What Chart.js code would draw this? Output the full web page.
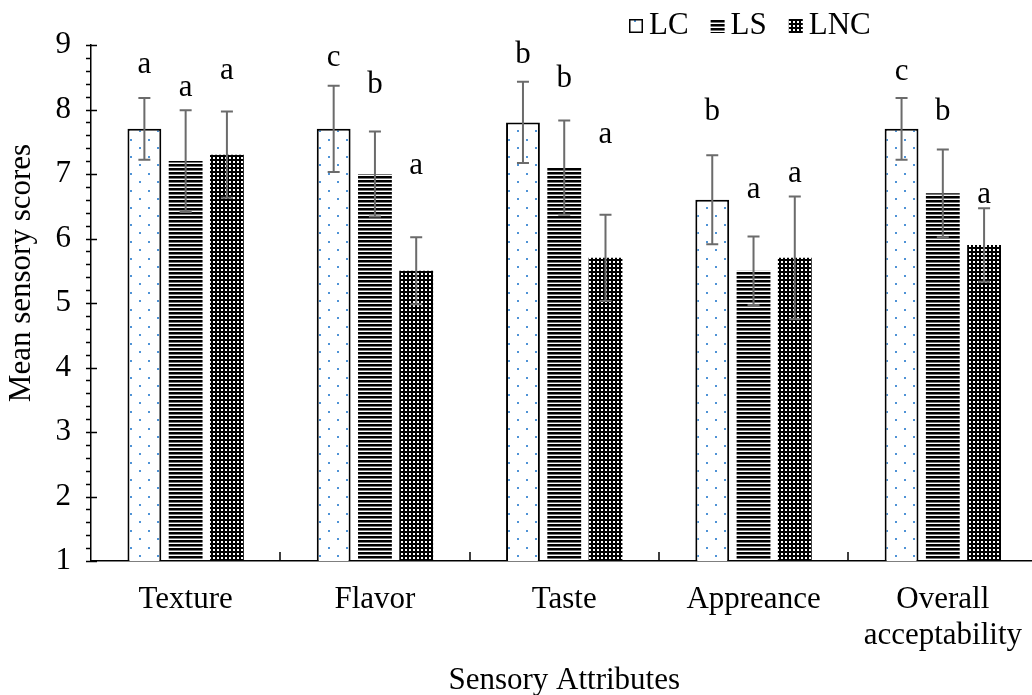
<!DOCTYPE html>
<html>
<head>
<meta charset="utf-8">
<title>Mean sensory scores</title>
<script src="https://cdn.jsdelivr.net/npm/chart.js@4.4.1/dist/chart.umd.min.js"></script>
<style>
  html, body { margin: 0; padding: 0; background: #fff; overflow: hidden; }
  #wrap { width: 1043px; height: 695px; position: relative; }
</style>
</head>
<body>
<div id="wrap"><canvas id="sensoryChart"></canvas></div>
<script>
const attributes = ['Texture', 'Flavor', 'Taste', 'Appreance', ['Overall', 'acceptability']];
const samples = ['LC', 'LS', 'LNC'];

const lcScores = [7.7, 7.7, 7.8, 6.6, 7.7];
const lsScores = [7.2, 7.0, 7.1, 5.5, 6.7];
const lncScores = [7.3, 5.5, 5.7, 5.7, 5.9];

// standard deviations (error bars)
const lcErrors = [0.48, 0.67, 0.63, 0.69, 0.48];
const lsErrors = [0.79, 0.66, 0.73, 0.53, 0.68];
const lncErrors = [0.67, 0.52, 0.67, 0.95, 0.57];

// significance letters and the score height their baseline sits at
const lcLetters = ['a', 'c', 'b', 'b', 'c'];
const lsLetters = ['a', 'b', 'b', 'a', 'b'];
const lncLetters = ['a', 'a', 'a', 'a', 'a'];
const lcLetterAt = [8.56, 8.67, 8.72, 7.84, 8.46];
const lsLetterAt = [8.21, 8.25, 8.35, 6.63, 7.84];
const lncLetterAt = [8.47, 7.0, 7.48, 6.88, 6.55];

const FONT = "'Liberation Serif', 'Times New Roman', serif";
const FONT_SIZE = 31;

const canvas = document.getElementById('sensoryChart');
const ctx = canvas.getContext('2d');

function makeTile(w, h, paint) {
  const c = document.createElement('canvas');
  c.width = w;
  c.height = h;
  paint(c.getContext('2d'), w, h);
  return c;
}

const dotFill = ctx.createPattern(makeTile(18, 17, (t, w, h) => {
  t.fillStyle = '#fff';
  t.fillRect(0, 0, w, h);
  t.fillStyle = '#4f93d6';
  t.fillRect(4, 3, 2, 2);
  t.fillRect(13, 11, 2, 2);
}), 'repeat');

const stripeFill = ctx.createPattern(makeTile(4, 4, (t, w, h) => {
  t.fillStyle = '#fff';
  t.fillRect(0, 0, w, h);
  t.fillStyle = '#000';
  t.fillRect(0, 0, w, 2);
  t.fillStyle = '#777';
  t.fillRect(0, 2, w, 1);
}), 'repeat');

const gridFill = ctx.createPattern(makeTile(4, 4, (t, w, h) => {
  t.fillStyle = '#000';
  t.fillRect(0, 0, w, h);
  t.fillStyle = '#fff';
  t.fillRect(1, 1, 2, 2);
}), 'repeat');

const errors = [lcErrors, lsErrors, lncErrors];
const letters = [lcLetters, lsLetters, lncLetters];
const letterAt = [lcLetterAt, lsLetterAt, lncLetterAt];

// error bars + significance letters
const annotations = {
  id: 'annotations',
  afterDatasetsDraw(chart) {
    const c = chart.ctx;
    const y = chart.scales.y;
    c.save();
    chart.data.datasets.forEach((ds, d) => {
      const meta = chart.getDatasetMeta(d);
      meta.data.forEach((bar, i) => {
        const v = ds.data[i];
        const top = y.getPixelForValue(v + errors[d][i]);
        const bot = y.getPixelForValue(v - errors[d][i]);
        c.strokeStyle = '#6b6b6b';
        c.lineWidth = 2;
        c.beginPath();
        c.moveTo(bar.x, top);
        c.lineTo(bar.x, bot);
        c.moveTo(bar.x - 6, top);
        c.lineTo(bar.x + 6, top);
        c.moveTo(bar.x - 6, bot);
        c.lineTo(bar.x + 6, bot);
        c.stroke();

        c.fillStyle = '#000';
        c.font = FONT_SIZE + 'px ' + FONT;
        c.textAlign = 'center';
        c.textBaseline = 'alphabetic';
        c.fillText(letters[d][i], bar.x, y.getPixelForValue(letterAt[d][i]));
      });
    });
    c.restore();
  }
};

// axis tick marks, y title and legend
const frame = {
  id: 'frame',
  afterDraw(chart) {
    const c = chart.ctx;
    const { x, y } = chart.scales;
    const { left, bottom } = chart.chartArea;
    c.save();
    c.strokeStyle = '#000';
    c.lineWidth = 1.5;
    c.beginPath();
    const steps = Math.round((y.max - y.min) * 5);
    for (let i = 0; i <= steps; i++) {
      const py = Math.round(y.getPixelForValue(y.min + i / 5)) + 0.5;
      c.moveTo(left - 5, py);
      c.lineTo(i % 5 === 0 ? left + 6 : left, py);
    }
    for (let i = 1; i < attributes.length; i++) {
      const px = Math.round((x.getPixelForValue(i - 1) + x.getPixelForValue(i)) / 2);
      c.moveTo(px, bottom);
      c.lineTo(px, bottom - 9);
    }
    c.stroke();

    c.fillStyle = '#000';
    c.font = FONT_SIZE + 'px ' + FONT;
    c.save();
    c.translate(22, 273);
    c.rotate(-Math.PI / 2);
    c.textAlign = 'center';
    c.textBaseline = 'middle';
    c.fillText('Mean sensory scores', 0, 0);
    c.restore();

    // legend
    const fills = chart.data.datasets.map(ds => ds.backgroundColor);
    let lx = 629;
    const ly = 19;
    const box = 14;
    c.textAlign = 'left';
    c.textBaseline = 'alphabetic';
    samples.forEach((name, k) => {
      c.fillStyle = fills[k];
      c.fillRect(lx, ly, box, box);
      if (k === 0) {
        c.lineWidth = 1.5;
        c.strokeStyle = '#000';
        c.strokeRect(lx + 0.75, ly + 0.75, box - 1.5, box - 1.5);
      }
      c.fillStyle = '#000';
      c.fillText(name, lx + box + 6, 34);
      lx += box + 6 + c.measureText(name).width + 22;
    });
    c.restore();
  }
};

new Chart(ctx, {
  type: 'bar',
  data: {
    labels: attributes,
    datasets: [
      { label: samples[0], data: lcScores, backgroundColor: dotFill, borderColor: '#000', borderWidth: 2, borderSkipped: false,
        categoryPercentage: 0.654, barPercentage: 0.82 },
      { label: samples[1], data: lsScores, backgroundColor: stripeFill, borderWidth: 0,
        categoryPercentage: 0.654, barPercentage: 0.82 },
      { label: samples[2], data: lncScores, backgroundColor: gridFill, borderWidth: 0,
        categoryPercentage: 0.654, barPercentage: 0.82 }
    ]
  },
  options: {
    responsive: true,
    maintainAspectRatio: false,
    animation: false,
    layout: { padding: { top: 45, left: 0, right: 0, bottom: 0 } },
    plugins: {
      legend: { display: false },
      tooltip: { enabled: false }
    },
    scales: {
      x: {
        grid: { display: false, drawTicks: false },
        border: { color: '#000', width: 1.5 },
        ticks: {
          color: '#000',
          font: { family: FONT, size: FONT_SIZE, lineHeight: 1.15 },
          padding: 21,
          maxRotation: 0,
          autoSkip: false
        },
        title: {
          display: true,
          text: 'Sensory Attributes',
          color: '#000',
          font: { family: FONT, size: FONT_SIZE, lineHeight: 1.15 },
          padding: { top: 20, bottom: -4 }
        },
        afterFit(scale) { scale.height = 134; }
      },
      y: {
        min: 1,
        max: 9,
        grid: { display: false, drawTicks: false },
        border: { color: '#000', width: 1.5 },
        ticks: {
          stepSize: 1,
          color: '#000',
          font: { family: FONT, size: FONT_SIZE },
          padding: 20
        },
        afterFit(scale) { scale.width = 91; }
      }
    }
  },
  plugins: [annotations, frame]
});
</script>
</body>
</html>
